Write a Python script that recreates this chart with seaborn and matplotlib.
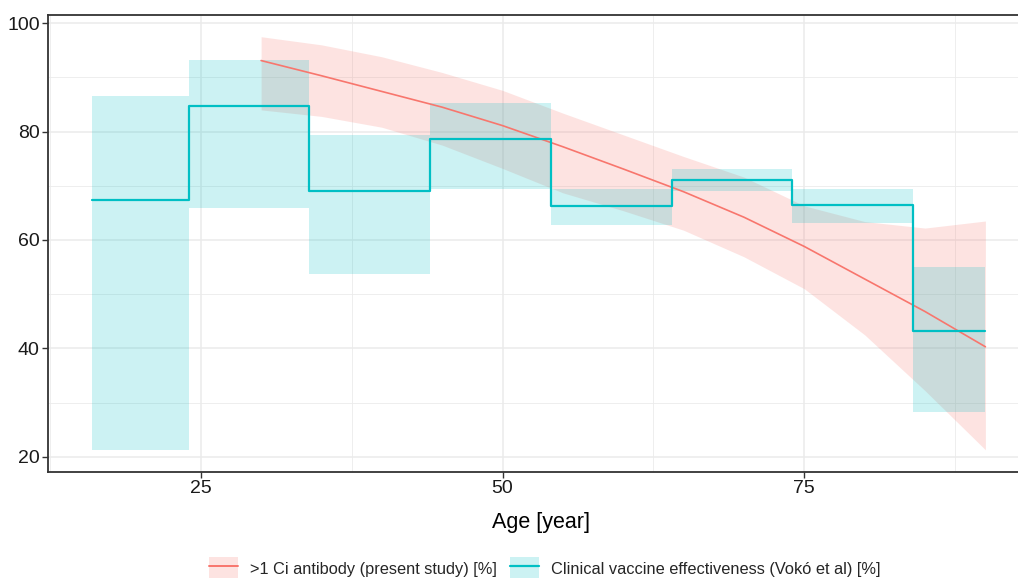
import numpy as np
import pandas as pd
import matplotlib
matplotlib.use("Agg")
import matplotlib.pyplot as plt
import seaborn as sns
from matplotlib.patches import Patch
from matplotlib.lines import Line2D

# ---- data ----
curve_age = [30, 35, 40, 45, 50, 55, 60, 65, 70, 75, 80, 85, 90]
antibody = [93.1, 90.3, 87.4, 84.5, 81.1, 77.2, 73.1, 68.9, 64.2, 58.8, 52.8, 46.8, 40.3]
antibody_lo = [84.0, 82.8, 80.8, 77.5, 73.2, 68.7, 65.4, 61.8, 56.9, 51.0, 42.5, 32.2, 21.3]
antibody_hi = [97.5, 96.0, 93.8, 90.9, 87.6, 83.4, 79.4, 75.4, 71.6, 66.3, 63.4, 62.2, 63.5]

age_edges = [16, 24, 34, 44, 54, 64, 74, 84, 90]
ve = [67.4, 84.7, 69.1, 78.6, 66.2, 71.1, 66.5, 43.2]
ve_lo = [21.3, 65.9, 53.8, 69.4, 62.7, 69.1, 63.2, 28.3]
ve_hi = [86.5, 93.2, 79.4, 85.3, 69.4, 73.1, 69.4, 55.0]

x_ticks = [25, 50, 75]
y_ticks = [20, 40, 60, 80, 100]

label_ab = ">1 Ci antibody (present study) [%]"
label_ve = "Clinical vaccine effectiveness (Vokó et al) [%]"

RED = "#F8766D"
TEAL = "#00BFC4"

sns.set_theme(style="white")
plt.rcParams["font.family"] = ["Liberation Sans", "DejaVu Sans"]

fig = plt.figure(figsize=(10.18, 5.78), dpi=100)
ax = fig.add_axes([0.0472, 0.1834, 0.9528, 0.7906])

# step data (post)
step_x = age_edges
step_y = ve + [ve[-1]]
step_lo = ve_lo + [ve_lo[-1]]
step_hi = ve_hi + [ve_hi[-1]]

df_curve = pd.DataFrame({"age": curve_age, "val": antibody})
df_step = pd.DataFrame({"age": step_x, "val": step_y})

ax.fill_between(curve_age, antibody_lo, antibody_hi, color=RED, alpha=0.2, linewidth=0, zorder=2)
ax.fill_between(step_x, step_lo, step_hi, step="post", color=TEAL, alpha=0.2, linewidth=0, zorder=2)

sns.lineplot(data=df_curve, x="age", y="val", ax=ax, color=RED, linewidth=1.2,
             errorbar=None, zorder=3)
sns.lineplot(data=df_step, x="age", y="val", ax=ax, color=TEAL, linewidth=1.6,
             errorbar=None, drawstyle="steps-post", zorder=4)

ax.set_xlim(12.35, 92.7)
ax.set_ylim(17.2, 101.5)
ax.set_xticks(x_ticks)
ax.set_yticks(y_ticks)
ax.set_xticks([12.5, 37.5, 62.5, 87.5], minor=True)
ax.set_yticks([30, 50, 70, 90], minor=True)
ax.grid(True, which="major", color="#EBEBEB", linewidth=1.1, zorder=0)
ax.grid(True, which="minor", color="#EBEBEB", linewidth=0.6, zorder=0)
ax.set_axisbelow(True)

for side in ["left", "bottom", "top"]:
    ax.spines[side].set_visible(True)
    ax.spines[side].set_color("#333333")
    ax.spines[side].set_linewidth(1.3)
ax.spines["right"].set_visible(False)

ax.tick_params(axis="both", which="major", length=4, width=1.0, color="#333333",
               labelsize=14, labelcolor="#1A1A1A", pad=2, direction="out",
               bottom=True, left=True)
ax.tick_params(axis="both", which="minor", length=0)
ax.set_xlabel("Age [year]", fontsize=15.5, color="#000000")
ax.xaxis.set_label_coords(0.508, -0.088)
ax.set_ylabel("")

handles = [
    (Patch(facecolor=RED, alpha=0.2, edgecolor="none"), Line2D([], [], color=RED, linewidth=1.4)),
    (Patch(facecolor=TEAL, alpha=0.2, edgecolor="none"), Line2D([], [], color=TEAL, linewidth=1.6)),
]
fig.legend(handles, [label_ab, label_ve], loc="lower center", bbox_to_anchor=(0.535, -0.028),
           ncol=2, frameon=False, fontsize=11.8, handlelength=1.8, handleheight=1.7,
           handletextpad=0.72, columnspacing=0.8)

fig.savefig("out.png", dpi=100)
